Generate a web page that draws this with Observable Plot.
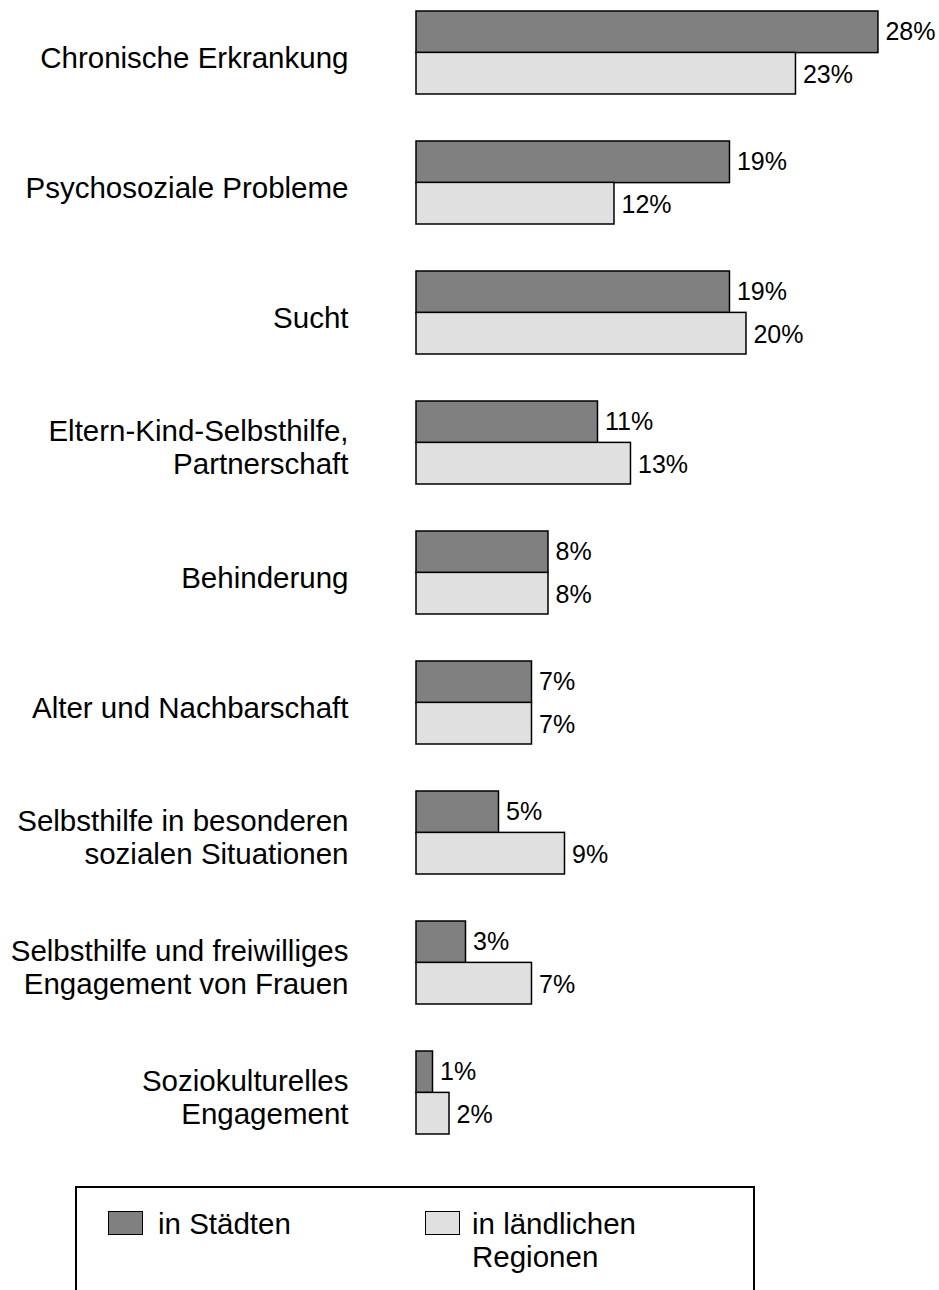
<!DOCTYPE html>
<html><head><meta charset="utf-8">
<script src="https://cdn.jsdelivr.net/npm/d3@7"></script>
<script src="https://cdn.jsdelivr.net/npm/@observablehq/plot@0.6"></script>
<style>
body{margin:0;background:#fff;font-family:"Liberation Sans",Arial,sans-serif;overflow:hidden}
#wrap{position:relative;width:939px;height:1290px;overflow:hidden}
#legend{position:absolute;left:75px;top:1186px;width:680px;height:200px;border:2px solid #000;box-sizing:border-box}
.sw{position:absolute;width:35px;height:24px;border:1.5px solid #000;box-sizing:border-box}
.lt{position:absolute;font-size:29.5px;line-height:33px;color:#000;white-space:nowrap}
</style></head><body>
<div id="wrap"><div id="chart"></div>
<div id="legend">
  <div class="sw" style="left:31px;top:23px;background:#808080"></div>
  <div class="lt" style="left:81px;top:19px">in Städten</div>
  <div class="sw" style="left:348px;top:23px;background:#e0e0e0"></div>
  <div class="lt" style="left:395px;top:19px">in ländlichen<br>Regionen</div>
</div>
</div>
<script>
const categories = [
  "Chronische Erkrankung",
  "Psychosoziale Probleme",
  "Sucht",
  "Eltern-Kind-Selbsthilfe,\nPartnerschaft",
  "Behinderung",
  "Alter und Nachbarschaft",
  "Selbsthilfe in besonderen\nsozialen Situationen",
  "Selbsthilfe und freiwilliges\nEngagement von Frauen",
  "Soziokulturelles\nEngagement"
];
const urban = [28, 19, 19, 11, 8, 7, 5, 3, 1];
const rural = [23, 12, 20, 13, 8, 7, 9, 7, 2];

const rows = categories.map((c, i) => ({category: c, urban: urban[i], rural: rural[i]}));

const padInner = 0.364;
const bandH = (1134 - 10) / (categories.length - padInner) * (1 - padInner);
const half = bandH / 2;

const chart = Plot.plot({
  width: 939,
  height: 1154,
  marginLeft: 416,
  marginRight: 0,
  marginTop: 10,
  marginBottom: 20,
  style: {fontFamily: '"Liberation Sans", Arial, sans-serif', color: "#000", background: "#fff", overflow: "visible"},
  x: {domain: [0, 31.7], axis: null},
  y: {domain: categories, paddingInner: padInner, paddingOuter: 0, axis: null},
  marks: [
    Plot.axisY({tickSize: 0, tickPadding: 68, fontSize: 29.5, lineHeight: 1.12, dy: 4, label: null, tickFormat: d => d}),
    Plot.barX(rows, {x: "urban", y: "category", fill: "#808080", stroke: "#000", strokeWidth: 1.5, insetBottom: half}),
    Plot.barX(rows, {x: "rural", y: "category", fill: "#e0e0e0", stroke: "#000", strokeWidth: 1.5, insetTop: half}),
    Plot.text(rows, {x: "urban", y: "category", text: d => d.urban + "%", dx: 7, dy: -half / 2, textAnchor: "start", fontSize: 25, fill: "#000"}),
    Plot.text(rows, {x: "rural", y: "category", text: d => d.rural + "%", dx: 7, dy: half / 2 + 1, textAnchor: "start", fontSize: 25, fill: "#000"})
  ]
});
document.getElementById("chart").appendChild(chart);
</script>
</body></html>
